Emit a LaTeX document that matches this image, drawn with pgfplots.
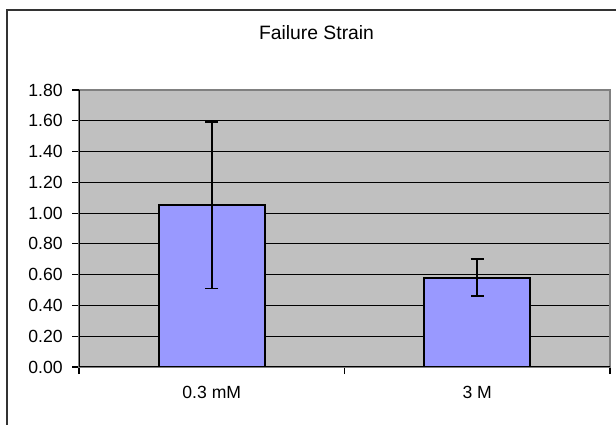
\documentclass[border=0pt]{standalone}
\usepackage{pgfplots}
\pgfplotsset{compat=1.18}
\usepackage{fontspec}
\setmainfont{Liberation Sans}
\definecolor{barblue}{HTML}{9999FF}
\definecolor{plotgray}{HTML}{C0C0C0}
\definecolor{framegray}{HTML}{808080}

\begin{document}
\begin{tikzpicture}
  \path[use as bounding box] (0,0) rectangle (462pt,318pt);
  % outer chart frame, partly outside the picture
  \begin{scope}
    \clip (0,0) rectangle (462pt,318pt);
    \draw[line width=1.2pt, black!80] (5.25pt,-20pt) rectangle (480pt,310.5pt);
  \end{scope}
  \node[font=\fontsize{14.5}{16}\selectfont] at (237.4pt,293.2pt) {Failure Strain};
  \begin{axis}[
      at={(59.25pt,42.75pt)}, anchor=south west,
      scale only axis,
      width=398.25pt, height=207.75pt,
      ybar, bar width=0.4,
      xmin=-0.5, xmax=1.5,
      ymin=0, ymax=1.8,
      axis background/.style={fill=plotgray},
      axis line style={framegray, line width=1pt},
      ytick={0,0.2,0.4,0.6,0.8,1.0,1.2,1.4,1.6},
      extra y ticks={1.8},
      extra y tick style={grid=none},
      ymajorgrids,
      major grid style={black, line width=0.8pt},
      yticklabel style={xshift=-3.5pt, /pgf/number format/.cd, fixed, fixed zerofill, precision=2},
      /pgf/number format/assume math mode=true,
      xtick={0,1},
      xticklabels={0.3 mM, 3 M},
      xticklabel style={yshift=-5.5pt},
      major x tick style={draw=none},
      minor xtick={-0.5,0.5,1.5},
      tick pos=left,
      tick align=outside,
      major tick length=5.25pt, minor tick length=5.25pt,
      tick style={black, line width=0.8pt},
      ticklabel style={font=\fontsize{13.2}{15}\selectfont},
    ]
    \addplot[fill=barblue, draw=black, line width=1.5pt,
      error bars/.cd, y dir=both, y explicit,
      error bar style={line width=1.3pt, black},
      error mark options={rotate=90, mark size=4.9pt, line width=1.3pt, black}]
      coordinates {(0,1.05) +- (0,0.54) (1,0.58) +- (0,0.12)};
    \draw[black, line width=0.9pt] (rel axis cs:0,1) -- (rel axis cs:0,0) -- (rel axis cs:1,0);
  \end{axis}
\end{tikzpicture}
\end{document}
